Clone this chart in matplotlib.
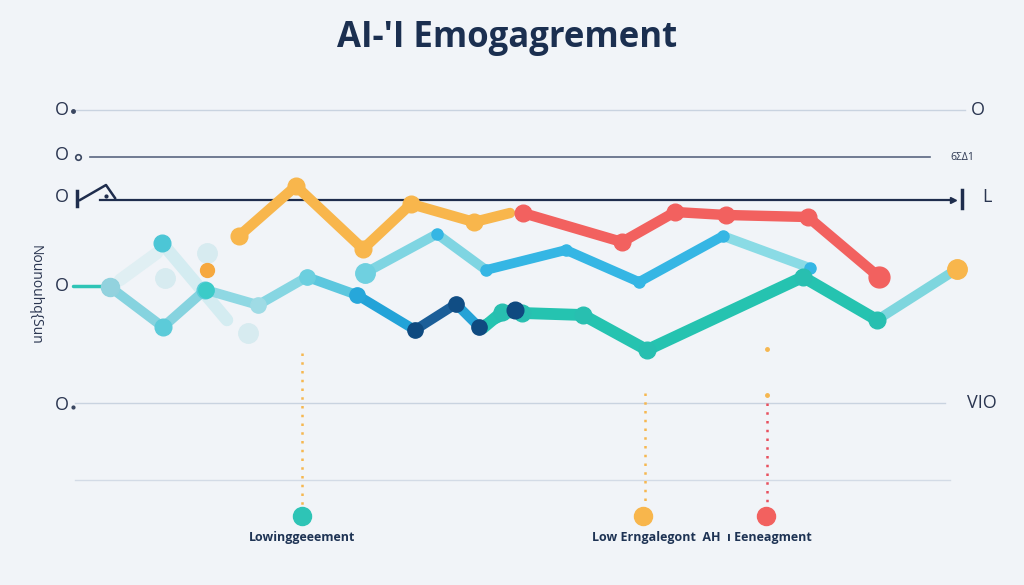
import matplotlib
matplotlib.use("Agg")
import matplotlib.pyplot as plt

# Datos (unidades de la figura: x 0-1024, y 0-585 hacia abajo)
# ----------------------------------------------------------------------
titulo = "AI-'I Emogagrement"
etiqueta_y = "Nounouhq{Sun"

# lineas horizontales de referencia
grid_y = [110, 157, 200, 403, 480]
grid_x0 = [75, 90, 100, 75, 75]
grid_x1 = [965, 930, 953, 945, 950]
grid_col = ["#c9d3e0", "#5a6680", "#1f2d4d", "#c9d3e0", "#d3dbe6"]
grid_lw = [1.0, 1.2, 1.6, 1.0, 1.0]

etiquetas_izq = ["O", "O", "O", "O", "O"]
etiquetas_izq_y = [110, 155, 197, 286, 405]
etiquetas_der = ["O", "6ΣΔ1", "L", "VIO"]
etiquetas_der_y = [110, 157, 197, 403]
etiquetas_der_x = [978, 950, 982, 967]

# serie izquierda (cian claro)
izq_x = [110, 163, 205]
izq_y = [287, 327, 290]

# serie media (cian -> azul -> marino)
med_x = [206, 258, 307, 357, 415, 456, 479, 515]
med_y = [290, 305, 277, 295, 330, 304, 327, 310]
med_seg = ["#8fd8e3", "#86d6e2", "#5cc7de", "#23a3d8", "#1b5e98", "#25a2d6", "#1fbba9"]
med_pts = ["#3ccbc8", "#9fdbe5", "#6bcfdf", "#27a7da", "#0f4a80", "#104d84", "#0f4a80", "#0f4a80"]

# serie azul superior
azul_x = [365, 437, 486, 566, 639, 723, 810]
azul_y = [273, 234, 270, 250, 282, 236, 268]
azul_seg = ["#7fd5e2", "#7fd5e2", "#35b6e4", "#35b6e4", "#35b6e4", "#8adbe5"]

# serie naranja
nar_x = [239, 296, 363, 411, 474, 510]
nar_y = [236, 186, 249, 204, 222, 213]

# serie roja
roja_x = [523, 622, 675, 726, 808, 879]
roja_y = [213, 242, 212, 215, 217, 277]

# serie verde azulado
verde_x = [483, 502, 522, 583, 647, 803, 877, 957]
verde_y = [328, 312, 313, 315, 350, 277, 320, 269]

# lineas punteadas verticales y puntos de leyenda
caida_x = [302, 645, 767]
caida_y0 = [353, 393, 403]
caida_col = ["#f6b750", "#f6b750", "#e8505e"]
leyenda_x = [302, 643, 766]
leyenda_col = ["#2ec4b6", "#f8b64c", "#f2615f"]
leyenda_txt = ["Lowinggeeement", "Low Erngalegont  AH  \u0131 Eeneagment"]
leyenda_txt_x = [302, 702]

fondo = "#f1f4f8"
marino = "#1e3354"
# ----------------------------------------------------------------------

plt.rcParams['font.family'] = ['Open Sans', 'DejaVu Sans']

fig = plt.figure(figsize=(10.24, 5.85), dpi=100, facecolor=fondo)
ax = fig.add_axes([0, 0, 1, 1])
ax.set_facecolor(fondo)
ax.set_xlim(0, 1024)
ax.set_ylim(585, 0)
ax.axis("off")

# titulo
ax.text(507, 38, titulo, ha="center", va="center", fontsize=25, fontweight="bold", color="#1b2f50")

# lineas de referencia
for y, x0, x1, c, lw in zip(grid_y, grid_x0, grid_x1, grid_col, grid_lw):
    ax.plot([x0, x1], [y, y], color=c, lw=lw, zorder=1)
ax.plot([953], [200], marker=">", ms=5, color="#1f2d4d", zorder=1)
ax.plot([962, 962], [190, 208], color="#1f2d4d", lw=2.5, zorder=1)
# marca triangular a la izquierda
ax.plot([77, 77], [191, 206], color="#1f2d4d", lw=2.5)
ax.plot([80, 106, 115], [200, 185, 198], color="#1f2d4d", lw=1.8)
ax.plot([106], [196], "o", ms=2, color="#1f2d4d")
ax.plot([73], [111], "o", ms=2.5, color="#3a4660")
ax.plot([78], [157], "o", ms=4, mfc="none", mec="#3a4660", mew=1.2)
ax.plot([73], [407], "o", ms=2, color="#3a4660")

for t, y in zip(etiquetas_izq, etiquetas_izq_y):
    ax.text(62, y, t, ha="center", va="center", fontsize=13, color="#2a3550")
for t, x, y in zip(etiquetas_der, etiquetas_der_x, etiquetas_der_y):
    fs = 7.5 if len(t) == 4 else 13
    ax.text(x, y, t, ha="left" if t != "O" else "center", va="center", fontsize=fs, color="#2a3550")

ax.text(35, 295, etiqueta_y, ha="center", va="center", rotation=270, fontsize=10, color="#2a3550")

LW = 7
MS = 11

# inicio verde a la izquierda
ax.plot([73, 110], [286, 286], color="#2ec4b6", lw=2.5, solid_capstyle="round", zorder=2)

# fantasmas tenues
ax.plot([162, 227], [243, 320], color="#d4ecf1", lw=LW + 2, solid_capstyle="round", zorder=2)
ax.plot([120, 157], [280, 253], color="#e0eff3", lw=LW + 2, solid_capstyle="round", zorder=2)
ax.plot([165, 207, 248], [278, 253, 333], "o", ms=MS + 3, color="#d7ebf0", zorder=2)
ax.plot([162], [243], "o", ms=MS + 1, color="#4cc6d6", zorder=4)

# serie izquierda
ax.plot(izq_x, izq_y, color="#86d3df", lw=LW, solid_capstyle="round", zorder=3)
ax.plot(izq_x, izq_y, "o", ms=MS + 1, color="#5ccbd9", zorder=4)
ax.plot(izq_x[:1], izq_y[:1], "o", ms=MS + 2, color="#92d2de", zorder=4)

# serie media
for i in range(len(med_x) - 1):
    ax.plot(med_x[i:i + 2], med_y[i:i + 2], color=med_seg[i], lw=LW, solid_capstyle="round", zorder=3)
for x, y, c in zip(med_x, med_y, med_pts):
    ax.plot([x], [y], "o", ms=MS, color=c, zorder=5)

# serie azul
for i in range(len(azul_x) - 1):
    ax.plot(azul_x[i:i + 2], azul_y[i:i + 2], color=azul_seg[i], lw=LW, solid_capstyle="round", zorder=3)
ax.plot(azul_x[:1], azul_y[:1], "o", ms=MS + 3, color="#6fd0e0", zorder=4)
ax.plot(azul_x[1:], azul_y[1:], "o", ms=MS - 3, color="#35b6e4", zorder=4)

# serie naranja
ax.plot(nar_x, nar_y, color="#f8b64c", lw=LW + 0.5, solid_capstyle="round", zorder=3)
ax.plot(nar_x[:-1], nar_y[:-1], "o", ms=MS + 1, color="#f8b64c", zorder=4)
ax.plot([207], [270], "o", ms=MS - 1, color="#f6a83e", zorder=5)

# serie roja
ax.plot(roja_x, roja_y, color="#f2615f", lw=LW + 0.5, solid_capstyle="round", zorder=3)
ax.plot(roja_x, roja_y, "o", ms=MS + 1, color="#f2615f", zorder=4)
ax.plot(roja_x[-1:], roja_y[-1:], "o", ms=MS + 4, color="#f2615f", zorder=4)

# serie verde
ax.plot(verde_x[:-1], verde_y[:-1], color="#25c3b0", lw=LW + 1.5, solid_capstyle="round", zorder=3)
ax.plot(verde_x[-2:], verde_y[-2:], color="#7ed6de", lw=LW, solid_capstyle="round", zorder=3)
ax.plot(verde_x[1:-1], verde_y[1:-1], "o", ms=MS + 1, color="#28bfb0", zorder=4)
ax.plot(verde_x[-1:], verde_y[-1:], "o", ms=MS + 3, color="#f8b64c", zorder=5)
ax.plot(med_x[-1:], med_y[-1:], "o", ms=MS + 1, color="#0f4a80", zorder=6)

# lineas punteadas verticales
for x, y0, c in zip(caida_x, caida_y0, caida_col):
    ax.plot([x, x], [y0, 505], color=c, lw=1.8, linestyle=(0, (1, 2.5)), zorder=2)
ax.plot([767, 767], [349, 395], "o", ms=2.5, color="#f6b750")

# puntos y textos de leyenda
for x, c in zip(leyenda_x, leyenda_col):
    ax.plot([x], [516], "o", ms=13, color=c, zorder=4)
for t, x in zip(leyenda_txt, leyenda_txt_x):
    ax.text(x, 538, t, ha="center", va="center", fontsize=9, fontweight="bold", color=marino)

fig.savefig("out.png", dpi=100, facecolor=fondo)
